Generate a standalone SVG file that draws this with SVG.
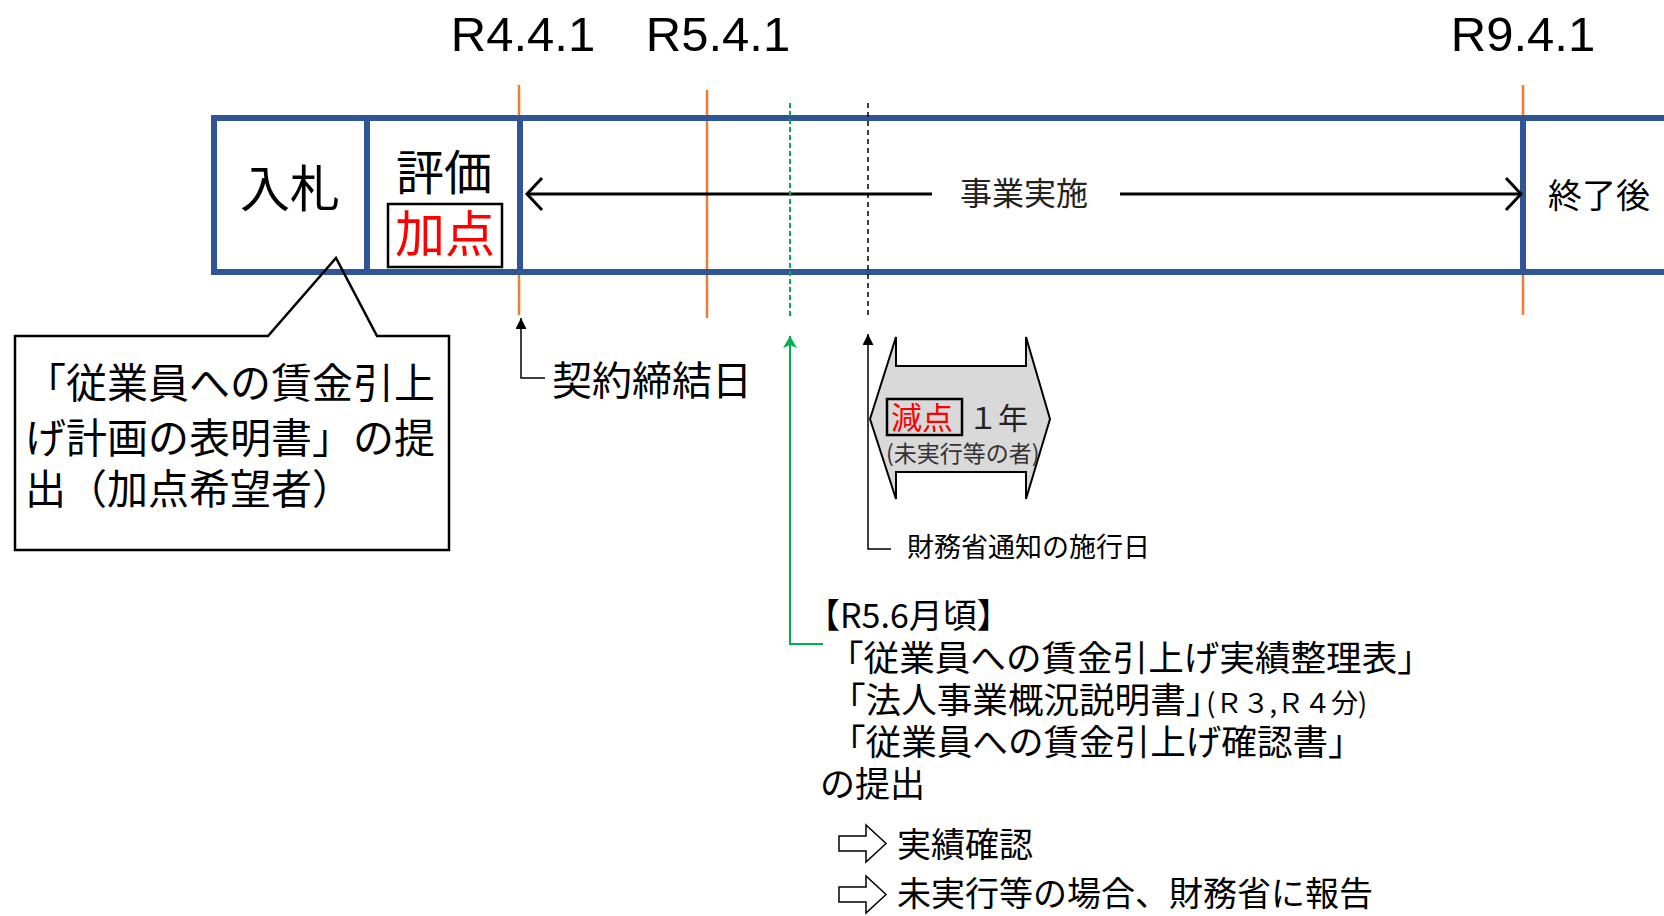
<svg xmlns="http://www.w3.org/2000/svg" width="1664" height="916" viewBox="0 0 1664 916">
<style>
text{font-family:"Noto Sans CJK JP","Noto Sans",sans-serif;fill:#000}
.lat{font-family:"Liberation Sans",Arial,sans-serif}
.blue{stroke:#2F5597;stroke-width:6;fill:none}
.org{stroke:#ED7D31;stroke-width:2.5;fill:none}
.thin{stroke:#000;stroke-width:1.5;fill:none}
</style>
<defs>
<marker id="ah" viewBox="0 0 10 10" refX="10" refY="5" markerWidth="11" markerHeight="11" markerUnits="userSpaceOnUse" orient="auto"><path d="M0,0 L10,5 L0,10 Z" fill="#000"/></marker>
<marker id="ahg" viewBox="0 0 12 14" refX="12" refY="7" markerWidth="12" markerHeight="14" markerUnits="userSpaceOnUse" orient="auto"><path d="M0,0 L12,7 L0,14 L3,7 Z" fill="#00B050"/></marker>
</defs>
<rect width="1664" height="916" fill="#fff"/>
<g id="dates">
<text class="lat" x="523" y="51" font-size="49" text-anchor="middle">R4.4.1</text>
<text class="lat" x="718" y="51" font-size="49" text-anchor="middle">R5.4.1</text>
<text class="lat" x="1523" y="51" font-size="49" text-anchor="middle">R9.4.1</text>
</g>
<g id="markers">
<line class="org" x1="519" y1="85" x2="519" y2="315"/>
<line class="org" x1="707" y1="90" x2="707" y2="318"/>
<line class="org" x1="1523" y1="85" x2="1523" y2="315"/>
</g>
<g id="timeline">
<line class="blue" x1="211" y1="118" x2="1664" y2="118"/>
<line class="blue" x1="211" y1="272" x2="1664" y2="272"/>
<line class="blue" x1="214" y1="115" x2="214" y2="275"/>
<line class="blue" x1="367" y1="115" x2="367" y2="275"/>
<line class="blue" x1="520" y1="115" x2="520" y2="275"/>
<line class="blue" x1="1523" y1="115" x2="1523" y2="275"/>
</g>
<g id="nyusatsu"><text x="290" y="207" font-size="50" text-anchor="middle">入札</text></g>
<g id="hyoka">
<text x="444" y="190" font-size="48" text-anchor="middle">評価</text>
<rect x="388" y="204" width="114" height="63" fill="#fff" stroke="#000" stroke-width="2.5"/>
<text x="445" y="252" font-size="50" text-anchor="middle" style="fill:#FF0000">加点</text>
</g>
<g id="jigyo">
<text x="1024" y="205" font-size="32" text-anchor="middle" style="fill:#222">事業実施</text>
</g>
<g id="shuryo"><text x="1548" y="208" font-size="34">終了後</text></g>
<g id="callout">
<path d="M15,336 L268,336 L336,258 L377,336 L449,336 L449,550 L15,550 Z" fill="none" stroke="#000" stroke-width="2.5"/>
<text x="25" y="398" font-size="41">「従業員への賃金引上</text>
<text x="25" y="453" font-size="41">げ計画の表明書」の提</text>
<text x="25" y="504" font-size="41">出（加点希望者）</text>
</g>
<g id="genten">
<path d="M870,419 L896,337 L896,366 L1026,366 L1026,337 L1050,419 L1026,499 L1026,472 L896,472 L896,499 Z" fill="#D9D9D9" stroke="#000" stroke-width="2"/>
<rect x="887" y="399" width="75" height="36" fill="none" stroke="#000" stroke-width="2.5"/>
<text x="891" y="429" font-size="31" style="fill:#FF0000">減点</text>
<text x="968" y="429" font-size="30" style="fill:#222">１年</text>
<text x="886" y="462" font-size="23" style="fill:#333">(未実行等の者)</text>
</g>
<g id="labels">
<text x="552" y="395" font-size="40">契約締結日</text>
<text x="907" y="557" font-size="27">財務省通知の施行日</text>
<text x="806" y="628" font-size="34">【R5.6月頃】</text>
<text x="828" y="671" font-size="35.6">「従業員への賃金引上げ実績整理表」</text>
<text x="830" y="713" font-size="35.6">「法人事業概況説明書」<tspan font-size="27" dx="-15">(Ｒ３,Ｒ４分)</tspan></text>
<text x="830" y="755" font-size="35.6">「従業員への賃金引上げ確認書」</text>
<text x="820" y="797" font-size="35">の提出</text>
<text x="897" y="857" font-size="34">実績確認</text>
<text x="897" y="906" font-size="34">未実行等の場合、財務省に報告</text>
</g>
<g id="connectors">
<line x1="527" y1="194" x2="932" y2="194" stroke="#000" stroke-width="3"/>
<line x1="1120" y1="194" x2="1521" y2="194" stroke="#000" stroke-width="3"/>
<path d="M542,178 L527,194 L542,210" fill="none" stroke="#000" stroke-width="3"/>
<path d="M1506,178 L1521,194 L1506,210" fill="none" stroke="#000" stroke-width="3"/>
<line x1="790" y1="103" x2="790" y2="318" stroke="#00B050" stroke-width="2" stroke-dasharray="5,3"/>
<line x1="868" y1="103" x2="868" y2="315" stroke="#000" stroke-width="1.5" stroke-dasharray="5,4"/>
<polyline class="thin" points="545,378 521,378 521,318" marker-end="url(#ah)"/>
<polyline class="thin" points="891,549 868,549 868,334" marker-end="url(#ah)"/>
<polyline points="823,644 790,644 790,336" fill="none" stroke="#00B050" stroke-width="2" marker-end="url(#ahg)"/>
<path d="M839,836 L866,836 L866,825 L886,843.5 L866,862 L866,851 L839,851 Z" fill="#fff" stroke="#000" stroke-width="1.5"/>
<path d="M839,887 L866,887 L866,876 L886,894.5 L866,913 L866,902 L839,902 Z" fill="#fff" stroke="#000" stroke-width="1.5"/>
</g>
</svg>
